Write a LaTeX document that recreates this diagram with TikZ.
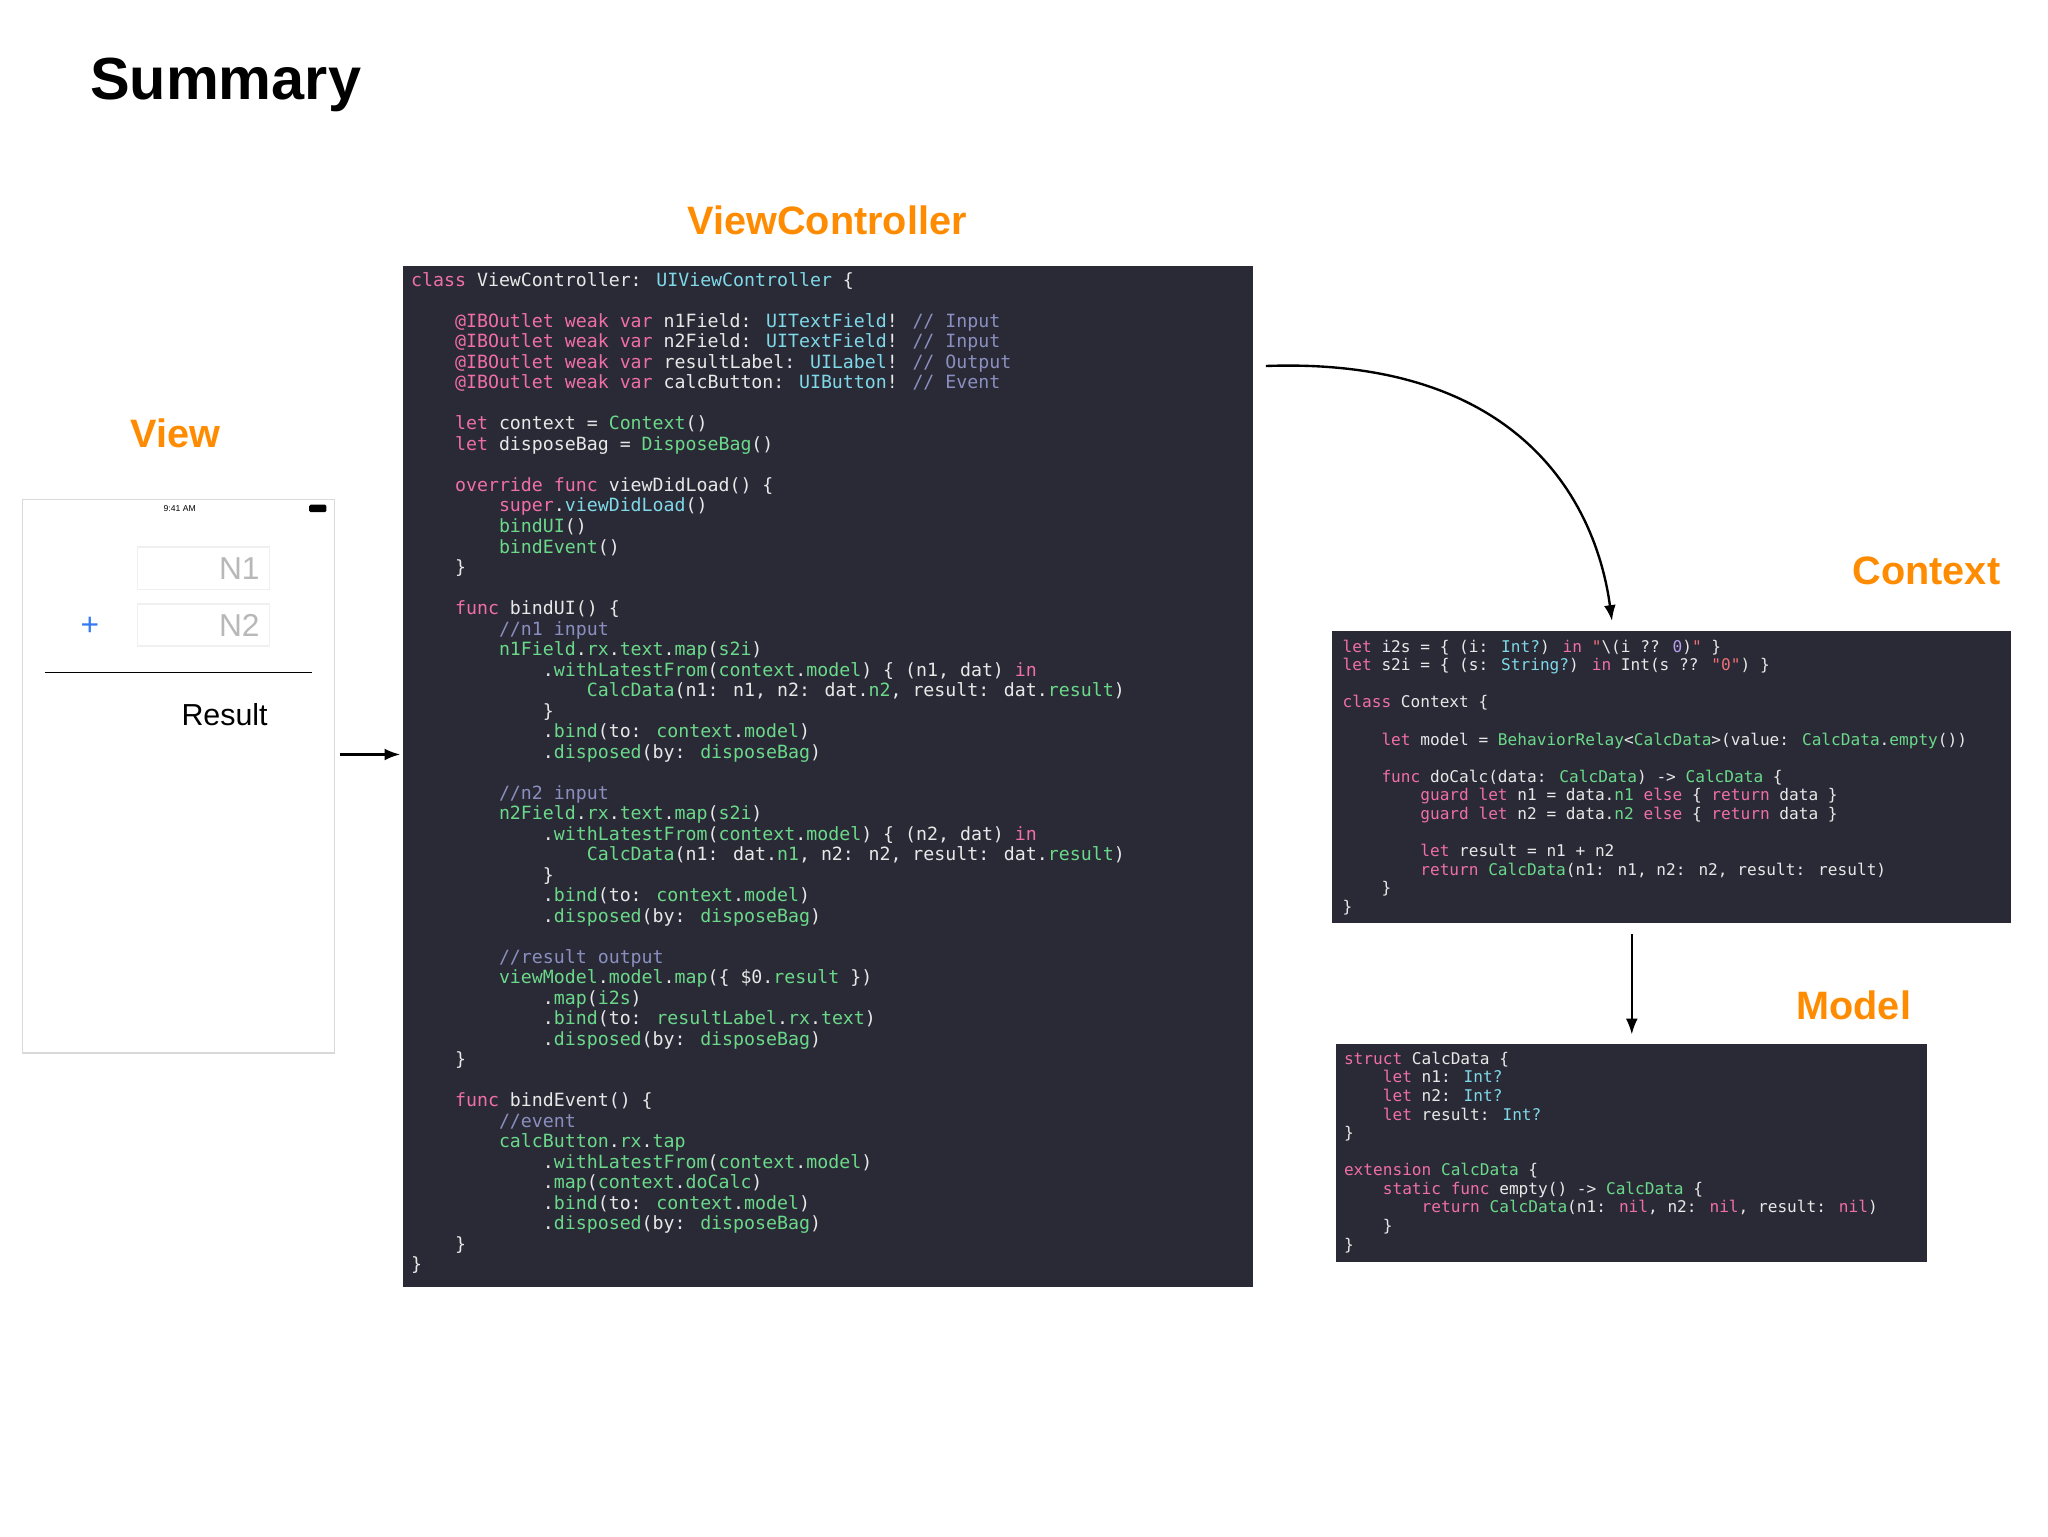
\documentclass[tikz,border=0pt]{standalone}
\usepackage{fontspec}
\setmainfont{Liberation Sans}
\newfontfamily\codefont{DejaVu Sans Mono}
\usetikzlibrary{arrows.meta}
\definecolor{bgc}{HTML}{292A35}
\definecolor{kw}{HTML}{F06EA9}
\definecolor{ty}{HTML}{7FD9E8}
\definecolor{gr}{HTML}{6BD98A}
\definecolor{cm}{HTML}{8A8FBF}
\definecolor{tx}{HTML}{E8E8E8}
\definecolor{nu}{HTML}{B8A0F0}
\definecolor{st}{HTML}{F0707A}
\definecolor{org}{HTML}{FF8C00}
\newcommand\K[1]{\textcolor{kw}{#1}}
\newcommand\T[1]{\textcolor{ty}{#1}}
\newcommand\G[1]{\textcolor{gr}{#1}}
\newcommand\C[1]{\textcolor{cm}{#1}}
\newcommand\N[1]{\textcolor{nu}{#1}}
\newcommand\Sq[1]{\textcolor{st}{#1}}
\newcommand\tb{\hphantom{0000}}
\tikzset{
 title/.style={font=\fontsize{30}{34}\selectfont\bfseries, text=org},
 codebox/.style={fill=bgc, draw=none},
 codetext/.style={anchor=north west, inner sep=0pt, align=left, text=tx},
 arr/.style={-{Latex[length=12pt,width=9pt]}, line width=1.8pt},
}
\begin{document}
\begin{tikzpicture}[x=1pt,y=-1pt]
\useasboundingbox (0,0) rectangle (1550,1162.5);
\fill[white] (0,0) rectangle (1550,1162.5);
\node[anchor=base west, inner sep=0pt, font=\fontsize{45}{50}\selectfont\bfseries] (sum) at (68,75) {Summary};
\node[title] (tvc) at (626,167) {ViewController};
\node[title] (tv) at (133,328) {View};
\node[title] (tc) at (1458,432) {Context};
\node[title] (tm) at (1403,761) {Model};

% phone
\draw[draw=black!15, line width=1pt] (17,378) rectangle (253,797);
\node[font=\fontsize{6.5}{7}\selectfont] (clock) at (136,384.5) {9:41 AM};
\fill[black, rounded corners=1pt] (234,382) rectangle (247,387.5);
\draw[black!6, line width=1pt] (104,414) rectangle (204,446);
\draw[black!6, line width=1pt] (104,457) rectangle (204,489);
\node[anchor=east, text=black!28, font=\fontsize{24}{26}\selectfont] (n1) at (200,430) {N1};
\node[anchor=east, text=black!28, font=\fontsize{24}{26}\selectfont] (n2) at (200,473) {N2};
\node[text={rgb,255:red,52;green,120;blue,246}, font=\fontsize{24}{26}\selectfont] (plus) at (68,474) {+};
\draw[line width=1.2pt] (34,509) -- (236,509);
\node[font=\fontsize{23}{26}\selectfont] (res) at (170,541) {Result};
\coordinate (phoneR) at (257,571);

% VC box
\node[codebox, minimum width=643pt, minimum height=773pt, anchor=north west, inner sep=0pt] (vc) at (305,201) {};
\node[codetext, font={\codefont\fontsize{13.8}{15.52}\selectfont}] (vccode) at (311,206) {%
\K{class} ViewController: \T{UIViewController} \{\\
~\\
\tb\K{@IBOutlet weak var} n1Field: \T{UITextField}! \C{// Input}\\
\tb\K{@IBOutlet weak var} n2Field: \T{UITextField}! \C{// Input}\\
\tb\K{@IBOutlet weak var} resultLabel: \T{UILabel}! \C{// Output}\\
\tb\K{@IBOutlet weak var} calcButton: \T{UIButton}! \C{// Event}\\
~\\
\tb\K{let} context = \G{Context}()\\
\tb\K{let} disposeBag = \G{DisposeBag}()\\
~\\
\tb\K{override func} viewDidLoad() \{\\
\tb\tb\K{super}.\T{viewDidLoad}()\\
\tb\tb\G{bindUI}()\\
\tb\tb\G{bindEvent}()\\
\tb\}\\
~\\
\tb\K{func} bindUI() \{\\
\tb\tb\C{//n1 input}\\
\tb\tb\G{n1Field}.\G{rx}.\G{text}.\G{map}(\G{s2i})\\
\tb\tb\tb.\G{withLatestFrom}(\G{context}.\G{model}) \{ (n1, dat) \K{in}\\
\tb\tb\tb\tb\G{CalcData}(n1: n1, n2: dat.\G{n2}, result: dat.\G{result})\\
\tb\tb\tb\}\\
\tb\tb\tb.\G{bind}(to: \G{context}.\G{model})\\
\tb\tb\tb.\G{disposed}(by: \G{disposeBag})\\
~\\
\tb\tb\C{//n2 input}\\
\tb\tb\G{n2Field}.\G{rx}.\G{text}.\G{map}(\G{s2i})\\
\tb\tb\tb.\G{withLatestFrom}(\G{context}.\G{model}) \{ (n2, dat) \K{in}\\
\tb\tb\tb\tb\G{CalcData}(n1: dat.\G{n1}, n2: n2, result: dat.\G{result})\\
\tb\tb\tb\}\\
\tb\tb\tb.\G{bind}(to: \G{context}.\G{model})\\
\tb\tb\tb.\G{disposed}(by: \G{disposeBag})\\
~\\
\tb\tb\C{//result output}\\
\tb\tb\G{viewModel}.\G{model}.\G{map}(\{ \$0.\G{result} \})\\
\tb\tb\tb.\G{map}(\G{i2s})\\
\tb\tb\tb.\G{bind}(to: \G{resultLabel}.\G{rx}.\G{text})\\
\tb\tb\tb.\G{disposed}(by: \G{disposeBag})\\
\tb\}\\
~\\
\tb\K{func} bindEvent() \{\\
\tb\tb\C{//event}\\
\tb\tb\G{calcButton}.\G{rx}.\G{tap}\\
\tb\tb\tb.\G{withLatestFrom}(\G{context}.\G{model})\\
\tb\tb\tb.\G{map}(\G{context}.\G{doCalc})\\
\tb\tb\tb.\G{bind}(to: \G{context}.\G{model})\\
\tb\tb\tb.\G{disposed}(by: \G{disposeBag})\\
\tb\}\\
\}};

% Context box
\node[codebox, minimum width=514pt, minimum height=221pt, anchor=north west, inner sep=0pt] (ctx) at (1008,477) {};
\node[codetext, font={\codefont\fontsize{12.2}{14.07}\selectfont}] (ctxcode) at (1016,484) {%
\K{let} i2s = \{ (i: \T{Int?}) \K{in} \Sq{"}\textbackslash(i ?? \N{0})\Sq{"} \}\\
\K{let} s2i = \{ (s: \T{String?}) \K{in} Int(s ?? \Sq{"0"}) \}\\
~\\
\K{class} Context \{\\
~\\
\tb\K{let} model = \G{BehaviorRelay}<\G{CalcData}>(value: \G{CalcData}.\G{empty}())\\
~\\
\tb\K{func} doCalc(data: \G{CalcData}) -> \G{CalcData} \{\\
\tb\tb\K{guard let} n1 = data.\G{n1} \K{else} \{ \K{return} data \}\\
\tb\tb\K{guard let} n2 = data.\G{n2} \K{else} \{ \K{return} data \}\\
~\\
\tb\tb\K{let} result = n1 + n2\\
\tb\tb\K{return} \G{CalcData}(n1: n1, n2: n2, result: result)\\
\tb\}\\
\}};

% Model box
\node[codebox, minimum width=447pt, minimum height=165pt, anchor=north west, inner sep=0pt] (mdl) at (1011,790) {};
\node[codetext, font={\codefont\fontsize{12.2}{14.05}\selectfont}] (mdlcode) at (1017,796) {%
\K{struct} CalcData \{\\
\tb\K{let} n1: \T{Int?}\\
\tb\K{let} n2: \T{Int?}\\
\tb\K{let} result: \T{Int?}\\
\}\\
~\\
\K{extension} \G{CalcData} \{\\
\tb\K{static func} empty() -> \G{CalcData} \{\\
\tb\tb\K{return} \G{CalcData}(n1: \K{nil}, n2: \K{nil}, result: \K{nil})\\
\tb\}\\
\}};

% arrows
\coordinate (vcL) at (303,571);
\draw[arr] (phoneR) -- (vcL);
\coordinate (vcR) at (958,277);
\coordinate (ctxT) at (1220,470);
\draw[arr] (vcR) .. controls (1150,270) and (1208,380) .. (ctxT);
\coordinate (ctxB) at (1235,707);
\coordinate (mdlT) at (1235,783);
\draw[arr] (ctxB) -- (mdlT);
\end{tikzpicture}
\end{document}
